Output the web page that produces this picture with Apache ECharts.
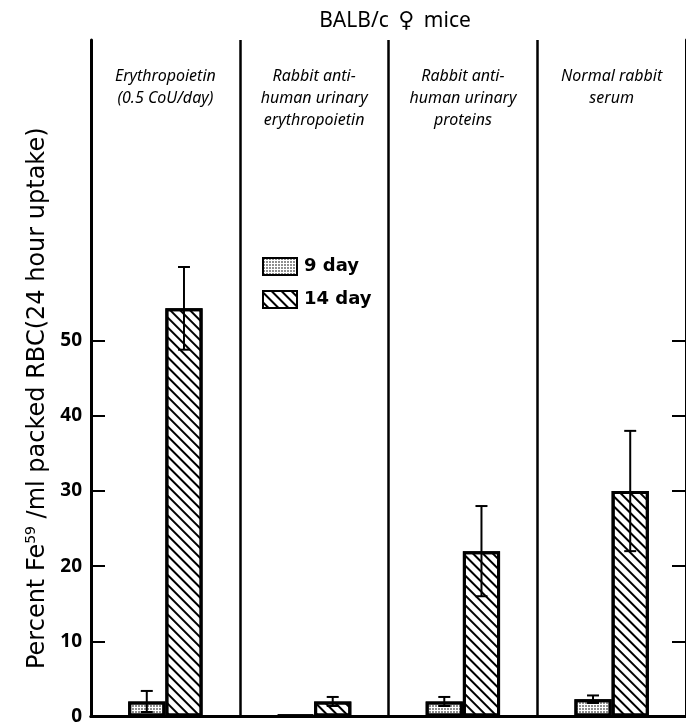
<!DOCTYPE html>
<html>
<head>
<meta charset="utf-8">
<script src="https://cdn.jsdelivr.net/npm/echarts@6/dist/echarts.min.js"></script>
<style>
  html, body { margin: 0; padding: 0; background: #fff; }
  #chart { width: 686px; height: 726px; }
</style>
</head>
<body>
<div id="chart"></div>
<script>
  // groups (panels) and values
  const categories = [
    'Erythropoietin\n(0.5 CoU/day)',
    'Rabbit anti-\nhuman urinary\nerythropoietin',
    'Rabbit anti-\nhuman urinary\nproteins',
    'Normal rabbit\nserum'
  ];
  const day9 = [2.0, 0.2, 2.0, 2.3];
  const day9Err = [1.4, 0, 0.6, 0.5];
  const day14 = [54.3, 2.0, 22.0, 30.0];
  const day14Err = [5.5, 0.6, 6.0, 8.0];
  const tickValues = [0, 10, 20, 30, 40, 50];

  const font = 'Noto Sans';
  const wideFont = 'DejaVu Sans';

  function errData(vals, errs) {
    const out = [];
    for (var i = 0; i < vals.length; i++) {
      if (errs[i] > 0) out.push([i, vals[i] - errs[i], vals[i] + errs[i]]);
    }
    return out;
  }

  function errRender(side) {
    return function (params, api) {
      const i = api.value(0);
      const hi = api.coord([i, api.value(2)]);
      const lo = api.coord([i, api.value(1)]);
      const x = hi[0] + side * api.size([1, 0])[0] * 0.125;
      const cap = 6;
      const st = { stroke: '#000', lineWidth: 2 };
      return {
        type: 'group',
        children: [
          { type: 'line', shape: { x1: x, y1: hi[1], x2: x, y2: lo[1] }, style: st },
          { type: 'line', shape: { x1: x - cap, y1: hi[1], x2: x + cap, y2: hi[1] }, style: st },
          { type: 'line', shape: { x1: x - cap, y1: lo[1], x2: x + cap, y2: lo[1] }, style: st }
        ]
      };
    };
  }

  const yTemplate = {
    type: 'value',
    min: 0,
    max: 90,
    interval: 10,
    splitLine: { show: false },
    axisLine: { show: true, lineStyle: { color: '#000', width: 3 } }
  };

  const myChart = echarts.init(document.getElementById('chart'));
  myChart.setOption({
    backgroundColor: '#fff',
    aria: { enabled: true, decal: { show: true } },
    textStyle: { fontFamily: font },
    title: {
      text: 'BALB/c {g|\u2640} mice',
      left: 390,
      top: 5,
      textAlign: 'center',
      textStyle: {
        fontFamily: font, fontSize: 21, fontWeight: 'normal', color: '#000',
        rich: { g: { fontFamily: wideFont, fontSize: 22, color: '#000', padding: [0, 4, 0, 4] } }
      }
    },
    legend: {
      data: ['9 day', '14 day'],
      orient: 'vertical',
      left: 257,
      top: 252,
      itemWidth: 34,
      itemHeight: 17,
      itemGap: 14,
      icon: 'rect',
      textStyle: { fontFamily: wideFont, fontSize: 18, fontWeight: 'bold', color: '#000', padding: [0, 0, 0, 2] }
    },
    grid: { left: 91, right: -5, top: 40, bottom: 5, containLabel: false },
    xAxis: [{
      type: 'category',
      data: categories,
      position: 'bottom',
      axisLine: { show: true, lineStyle: { color: '#000', width: 3 } },
      axisTick: { show: false },
      axisLabel: { show: false },
      splitLine: { show: true, lineStyle: { color: '#000', width: 2.5 } }
    }, {
      type: 'category',
      data: categories,
      position: 'top',
      axisLine: { show: true, lineStyle: { color: '#000', width: 3 } },
      axisTick: { show: false },
      axisLabel: {
        inside: true,
        margin: 25,
        verticalAlign: 'top',
        fontFamily: font,
        fontStyle: 'italic',
        fontSize: 16,
        lineHeight: 22,
        color: '#000'
      }
    }],
    yAxis: [Object.assign({}, yTemplate, {
      position: 'left',
      name: 'Percent Fe{sup|59} /ml packed RBC(24 hour uptake)',
      nameLocation: 'middle',
      nameGap: 36,
      nameTextStyle: {
        fontFamily: wideFont,
        fontSize: 24,
        color: '#000',
        padding: [0, 0, 0, -40],
        rich: { sup: { fontFamily: wideFont, fontSize: 14, verticalAlign: 'top', padding: [0, 0, 13, 0] } }
      },
      axisTick: { show: true, inside: true, length: 14, customValues: tickValues, lineStyle: { color: '#000', width: 2 } },
      axisLabel: {
        customValues: tickValues,
        margin: 9,
        fontFamily: font,
        fontSize: 19,
        fontWeight: 'bold',
        color: '#000'
      }
    }), Object.assign({}, yTemplate, {
      position: 'right',
      axisTick: { show: true, inside: true, length: 14, customValues: tickValues, lineStyle: { color: '#000', width: 2 } },
      axisLabel: { show: false }
    })],
    series: [{
      name: '9 day',
      type: 'bar',
      data: day9,
      barWidth: '25%',
      barGap: '0%',
      itemStyle: {
        color: '#fff',
        borderColor: '#000',
        borderWidth: 3,
        decal: { symbol: 'rect', symbolSize: 0.8, color: '#444', dashArrayX: [2, 1], dashArrayY: [2, 1], rotation: 0 }
      }
    }, {
      name: '14 day',
      type: 'bar',
      data: day14,
      barWidth: '25%',
      barGap: '0%',
      itemStyle: {
        color: '#fff',
        borderColor: '#000',
        borderWidth: 3,
        decal: { symbol: 'rect', symbolSize: 1, color: '#000', dashArrayX: [1, 0], dashArrayY: [2, 5], rotation: Math.PI / 4 }
      }
    }, {
      name: '9 day err',
      type: 'custom',
      data: errData(day9, day9Err),
      encode: { x: 0, y: [1, 2] },
      renderItem: errRender(-1),
      z: 5
    }, {
      name: '14 day err',
      type: 'custom',
      data: errData(day14, day14Err),
      encode: { x: 0, y: [1, 2] },
      renderItem: errRender(1),
      z: 5
    }]
  });
</script>
</body>
</html>
